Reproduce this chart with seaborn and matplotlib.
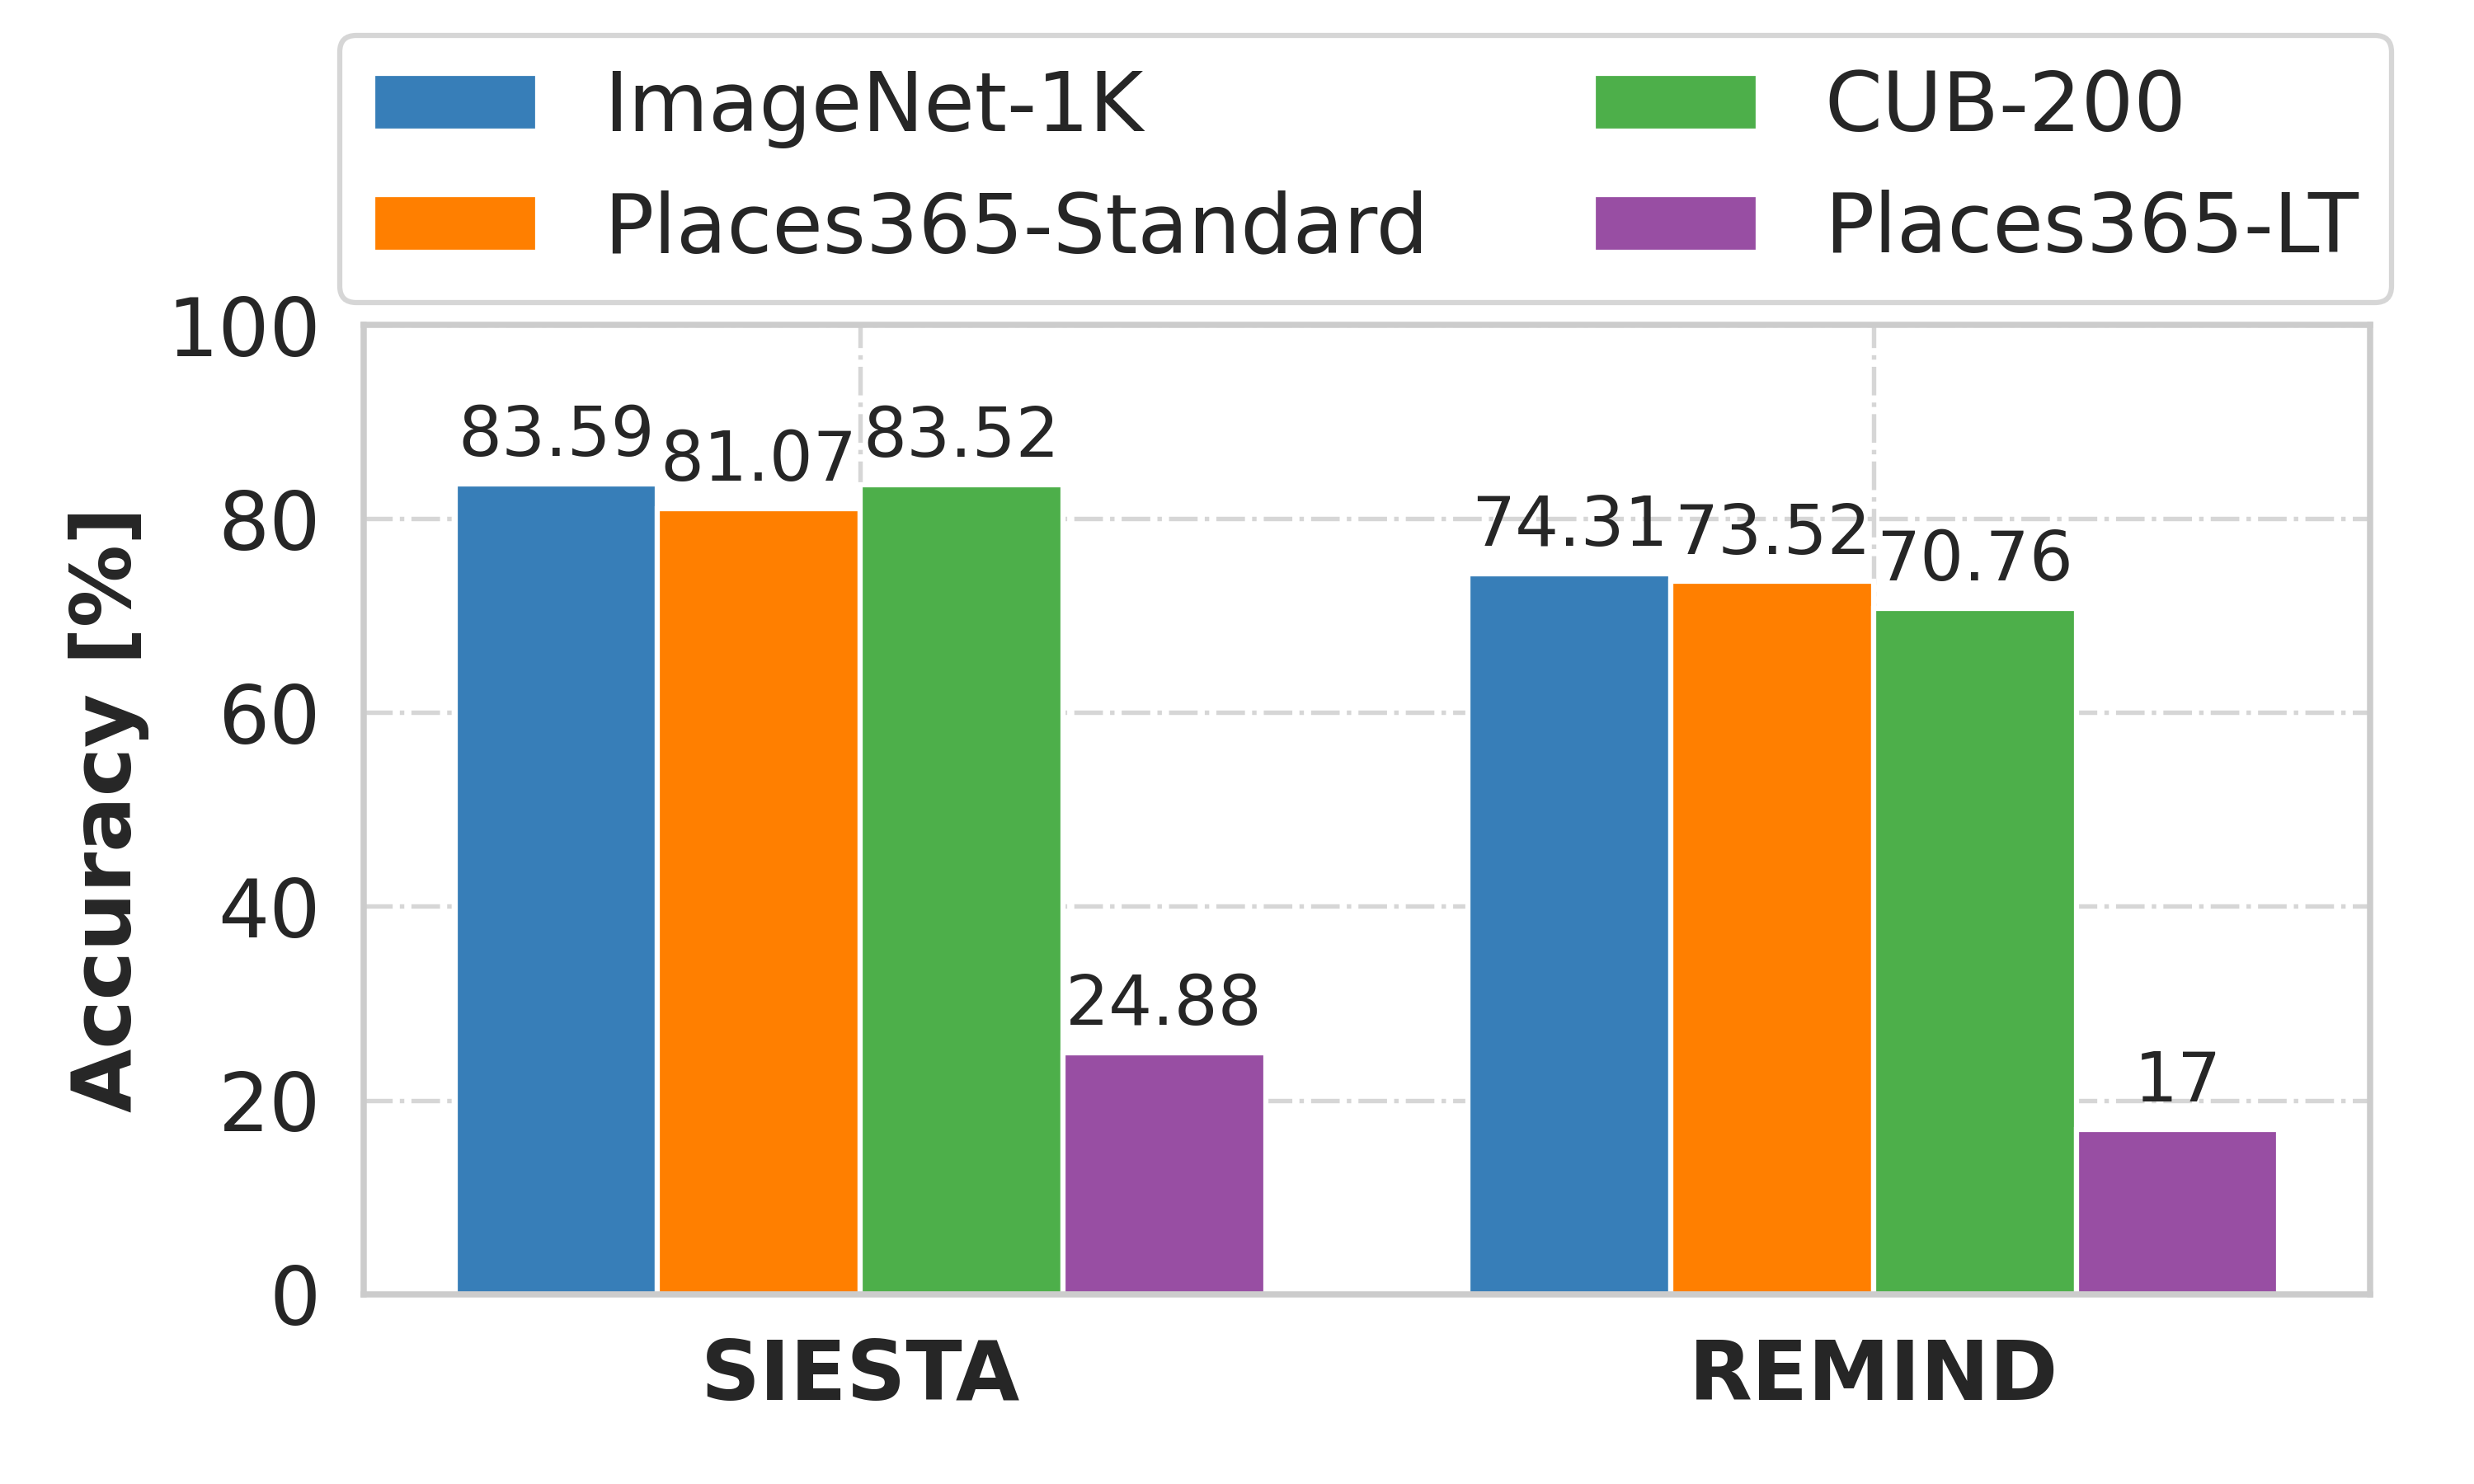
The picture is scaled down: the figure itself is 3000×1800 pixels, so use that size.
import matplotlib
matplotlib.use("Agg")
import matplotlib.pyplot as plt
import seaborn as sns
import pandas as pd

methods = ["SIESTA", "REMIND"]
datasets = ["ImageNet-1K", "Places365-Standard", "CUB-200", "Places365-LT"]
imagenet = [83.59, 74.31]
places_std = [81.07, 73.52]
cub = [83.52, 70.76]
places_lt = [24.88, 17]
colors = ["#377eb8", "#ff7f00", "#4daf4a", "#984ea3"]
yticks = [0, 20, 40, 60, 80, 100]

sns.set_theme(style="whitegrid")
plt.rcParams['font.family'] = ['DejaVu Sans']

rows = []
for ds, vals in zip(datasets, [imagenet, places_std, cub, places_lt]):
    for m, v in zip(methods, vals):
        rows.append({"Method": m, "Dataset": ds, "Accuracy": v})
df = pd.DataFrame(rows)

fig = plt.figure(figsize=(10, 6), dpi=300)
ax = fig.add_axes([0.147, 0.128, 0.811, 0.653])
sns.barplot(data=df, x="Method", y="Accuracy", hue="Dataset",
            hue_order=datasets, order=methods, palette=colors,
            edgecolor="white", linewidth=1.5, saturation=1,
            errorbar=None, ax=ax)

for cont in ax.containers:
    ax.bar_label(cont, fmt="%g", fontsize=20, padding=4, color="#262626")

ax.set_xlim(-0.49, 1.49)
ax.set_ylim(0, 100)
ax.set_yticks(yticks)
ax.tick_params(axis="y", labelsize=23.5, pad=6.5)
ax.tick_params(axis="x", labelsize=24, pad=6.5)
for lbl in ax.get_xticklabels():
    lbl.set_fontweight("bold")
ax.set_xlabel("")
ax.set_ylabel("Accuracy [%]", fontsize=24, fontweight="bold", labelpad=5)

ax.grid(True, linestyle="-.", color="#d6d6d6", linewidth=1.3)
ax.set_axisbelow(True)
for sp in ax.spines.values():
    sp.set_color("#cccccc")
    sp.set_linewidth(1.8)

handles, labels = ax.get_legend_handles_labels()
leg = ax.legend(handles, labels, ncol=2, fontsize=24, loc="lower center",
                bbox_to_anchor=(0.552, 0.796), bbox_transform=fig.transFigure,
                borderaxespad=0, frameon=True, fancybox=True, labelspacing=0.5)
leg.get_frame().set_edgecolor("#cccccc")
leg.get_frame().set_linewidth(1.5)

fig.savefig("out.png", dpi=300)
